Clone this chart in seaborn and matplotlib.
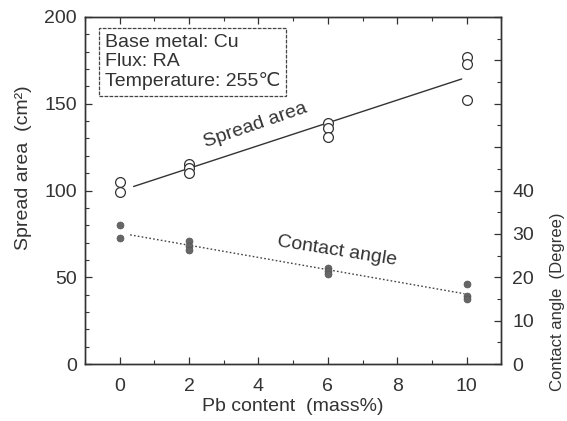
import numpy as np
import pandas as pd
import matplotlib
matplotlib.use("Agg")
import matplotlib.pyplot as plt
from matplotlib.ticker import MultipleLocator, FuncFormatter
import seaborn as sns

# ---- data ----
spread_x = [0, 0, 2, 2, 2, 6, 6, 6, 10, 10, 10]
spread_y = [105, 99, 115, 113, 110, 139, 136, 131, 177, 173, 152]
angle_x = [0, 0, 2, 2, 2, 6, 6, 6, 10, 10, 10]
angle_y = [32, 29, 28.4, 27.2, 26.3, 22.2, 21.5, 20.7, 18.5, 15.6, 14.9]
spread_fit_range = [0.4, 9.86]
angle_fit_range = [0.3, 9.94]
x_ticks = [0, 2, 4, 6, 8, 10]
info_lines = ["Base metal: Cu", "Flux: RA", "Temperature: 255\u2103"]

sns.set_style("ticks")
plt.rcParams['font.family'] = ['Liberation Sans', 'DejaVu Sans']
plt.rcParams['axes.edgecolor'] = '#333333'
plt.rcParams['xtick.color'] = '#333333'
plt.rcParams['ytick.color'] = '#333333'
plt.rcParams['text.color'] = '#333333'
plt.rcParams['axes.labelcolor'] = '#333333'

FS = 14

fig = plt.figure(figsize=(5.67, 4.21), dpi=100)
ax = fig.add_axes([0.150, 0.135, 0.734, 0.825])
ax2 = ax.twinx()

sp = pd.DataFrame({"x": spread_x, "y": spread_y})
ca = pd.DataFrame({"x": angle_x, "y": angle_y})

sns.scatterplot(data=sp, x="x", y="y", ax=ax, s=50, facecolor="white",
                edgecolor="#333333", linewidth=0.9, zorder=3)
sns.scatterplot(data=ca, x="x", y="y", ax=ax2, s=25, color="#666666",
                edgecolor="#555555", linewidth=0.5, zorder=3)

# fit lines
p1 = np.polyfit(spread_x, spread_y, 1)
fx1 = np.array(spread_fit_range)
sns.lineplot(x=fx1, y=np.polyval(p1, fx1), ax=ax, color="#333333", lw=1.0)
p2 = np.polyfit(angle_x, angle_y, 1)
fx2 = np.array(angle_fit_range)
sns.lineplot(x=fx2, y=np.polyval(p2, fx2), ax=ax2, color="#444444", lw=1.0,
             linestyle=(0, (1.2, 1.6)))

ax.set_xlim(-1, 11)
ax.set_ylim(0, 200)
ax2.set_ylim(0, 80)
ax.set_xticks(x_ticks)
ax.xaxis.set_minor_locator(MultipleLocator(1))
ax.yaxis.set_major_locator(MultipleLocator(50))
ax.yaxis.set_minor_locator(MultipleLocator(10))
ax2.yaxis.set_major_locator(MultipleLocator(10))
ax2.yaxis.set_minor_locator(MultipleLocator(5))
ax2.yaxis.set_major_formatter(FuncFormatter(lambda v, p: f"{int(v)}" if v <= 40 else ""))

ax.tick_params(which='both', direction='in', top=True, right=False, labelsize=FS)
ax.tick_params(which='major', length=5, width=0.9)
ax.tick_params(which='minor', length=3, width=0.8)
ax.tick_params(axis='y', pad=6)
ax.tick_params(axis='x', pad=10)
ax2.tick_params(which='both', direction='in', labelsize=FS, pad=8)
ax2.tick_params(which='major', length=5, width=0.9)
ax2.tick_params(which='minor', length=3, width=0.8)

for a in (ax, ax2):
    for s in a.spines.values():
        s.set_visible(True)
        s.set_linewidth(1.0)

ax.set_xlabel("Pb content  (mass%)", fontsize=FS, labelpad=2)
ax.set_ylabel("Spread area  (cm\u00b2)", fontsize=FS)
ax.yaxis.set_label_coords(-0.127, 0.565)
ax2.set_ylabel("Contact angle  (Degree)", fontsize=12)
ax2.yaxis.set_label_coords(1.117, 0.18)

ax.text(3.9, 137.5, "Spread area", fontsize=FS, rotation=19,
        ha="center", va="center")
ax2.text(6.26, 26.0, "Contact angle", fontsize=FS, rotation=-9,
         ha="center", va="center")

ax.text(-0.42, 190, "\n".join(info_lines), fontsize=FS, ha="left", va="top",
        linespacing=1.15,
        bbox=dict(boxstyle="square,pad=0.3", facecolor="white",
                  edgecolor="#444444", linewidth=0.9, linestyle=(0, (3, 1))))

fig.savefig("out.png", dpi=100)
